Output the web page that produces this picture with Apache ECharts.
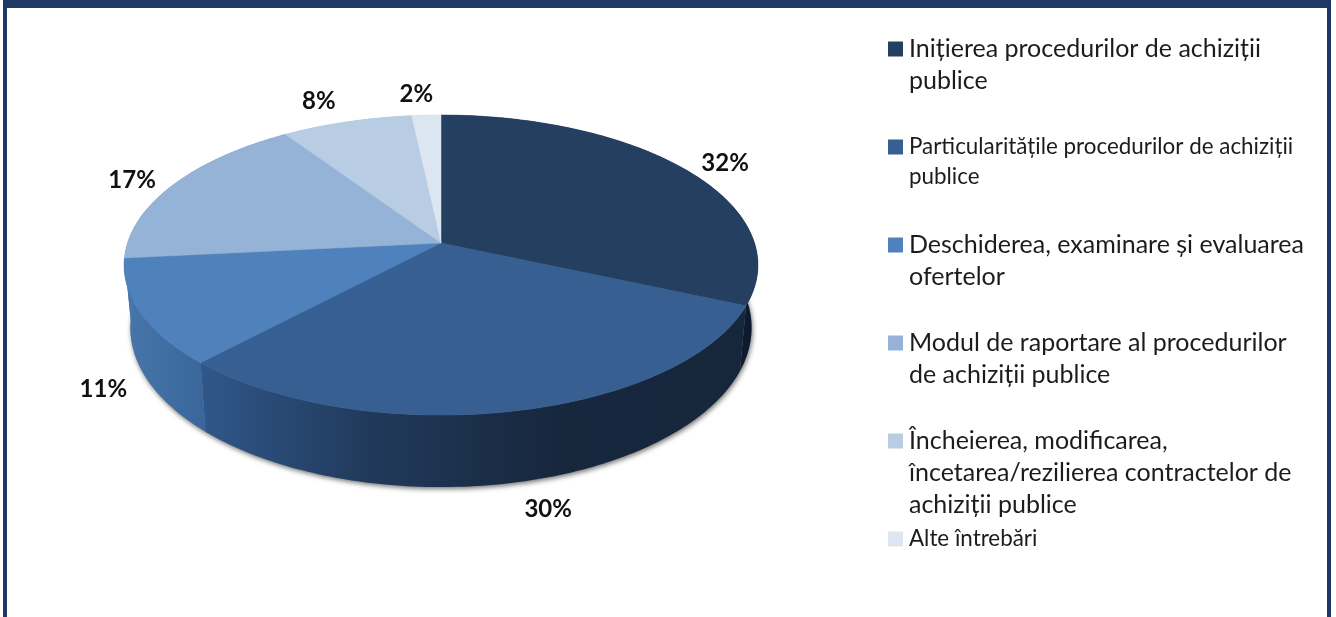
<!DOCTYPE html>
<html>
<head>
<meta charset="utf-8">
<script src="https://cdn.jsdelivr.net/npm/echarts@6/dist/echarts.min.js"></script>
<style>
  html, body { margin: 0; padding: 0; background: #fff; overflow: hidden; }
  #frame {
    position: absolute; left: 3px; top: 0; width: 1328px; height: 617px;
    box-sizing: border-box; border: 4px solid #1f3864; border-top-width: 8px; border-bottom: none;
  }
  #main { position: absolute; left: 0; top: 0; width: 1336px; height: 617px; }
</style>
</head>
<body>
<div id="frame"></div>
<div id="main"></div>
<script>
// values
const sliceNames = [
  'Inițierea procedurilor de achiziții\npublice',
  'Particularitățile procedurilor de achiziții\npublice',
  'Deschiderea, examinare și evaluarea\nofertelor',
  'Modul de raportare al procedurilor\nde achiziții publice',
  'Încheierea, modificarea,\nîncetarea/rezilierea contractelor de\nachiziții publice',
  'Alte întrebări'
]
const sliceValues = [31.6, 30.4, 11.4, 17.2, 7.7, 1.7]

const topColors = ['#243f60', '#375f92', '#4f81bd', '#95b3d7', '#b8cce4', '#dce6f1']
// left to right colour of the rim of each slice
const sideStops = [
  [[0, '#16263b'], [1, '#0d1a2e']],
  [[0, '#30578a'], [0.3, '#213a5c'], [0.65, '#17273d'], [1, '#16263b']],
  [[0, '#4776ab'], [1, '#39659a']],
  [[0, '#4776ab'], [1, '#4776ab']],
  [[0, '#9ab0cc'], [1, '#9ab0cc']],
  [[0, '#bcc8d8'], [1, '#bcc8d8']]
]
// from the rim point at the middle of the slice to the centre of its label
const labelOffsets = [[41, -5], [34, 98], [-37, 77], [-42, -4], [-28, -21], [-10, -21]]
const legendLayout = [
  { y: 49, size: 25, line: 32 },
  { y: 147, size: 22.4, line: 30 },
  { y: 245, size: 25, line: 32 },
  { y: 343, size: 25, line: 32 },
  { y: 441, size: 25, line: 32 },
  { y: 539, size: 22.4, line: 30 }
]

// tilted pie, projected with a little perspective
const cx = 441
const cy = 243
const radiusX = 313.5
const radiusY = 146.8
const depth = 61.4
const persp = 0.147
const bottomShrink = 0.98

function project(angle, drop) {
  const z = -Math.cos(angle)
  const w = 1 - persp * z
  return [
    cx + radiusX * (drop ? bottomShrink : 1) * Math.sin(angle) / w,
    cy + (radiusY * z + (drop ? depth : 0)) / w
  ]
}

function arcPoints(a0, a1, drop) {
  const pts = []
  const n = Math.max(2, Math.ceil((a1 - a0) * 180 / Math.PI))
  for (let i = 0; i <= n; i++) {
    pts.push(project(a0 + (a1 - a0) * i / n, drop))
  }
  return pts
}

const total = sliceValues.reduce((a, b) => a + b, 0)

function renderSlice(params, api) {
  const i = params.seriesIndex
  const value = api.value(0)
  let before = 0
  for (let k = 0; k < i; k++) before += sliceValues[k]
  const a0 = before / total * Math.PI * 2
  const a1 = (before + value) / total * Math.PI * 2
  const mid = (a0 + a1) / 2

  const topArc = arcPoints(a0, a1, false)
  const bottomArc = arcPoints(a0, a1, true)
  const sideShape = topArc.concat(bottomArc.slice().reverse())
  const rim = project(mid, false)
  const sideFill = new echarts.graphic.LinearGradient(0, 0, 1, 0,
    sideStops[i].map(s => ({ offset: s[0], color: s[1] })))

  return {
    type: 'group',
    children: [
      {
        type: 'polygon',
        z2: 0,
        shape: { points: [[cx, cy + depth]].concat(bottomArc) },
        style: { fill: '#888', shadowBlur: 5, shadowColor: 'rgba(0,0,0,0.55)', shadowOffsetY: 2, shadowOffsetX: 1 }
      },
      {
        type: 'polygon',
        z2: 1,
        shape: { points: sideShape },
        style: { fill: sideFill }
      },
      {
        type: 'polygon',
        z2: 2,
        shape: { points: [[cx, cy]].concat(topArc) },
        style: { fill: topColors[i], stroke: topColors[i], lineWidth: 0.5 }
      },
      {
        type: 'text',
        z2: 3,
        style: {
          x: rim[0] + labelOffsets[i][0],
          y: rim[1] + labelOffsets[i][1],
          text: Math.round(value) + '%',
          align: 'center',
          verticalAlign: 'middle',
          fill: '#111',
          font: 'bold 24px Lato'
        }
      }
    ]
  }
}

const chart = echarts.init(document.getElementById('main'))
chart.setOption({
  animation: false,
  tooltip: { show: false },
  legend: sliceNames.map((name, i) => {
    const lines = name.split('\n').length
    const line = legendLayout[i].line
    return {
      left: 888,
      // blank lines above the text keep the symbol on the first line
      top: legendLayout[i].y - (2 * lines - 1) * line / 2,
      padding: 0,
      orient: 'vertical',
      selectedMode: false,
      itemWidth: 15,
      itemHeight: 15,
      itemGap: 0,
      formatter: n => '\n'.repeat(lines - 1) + n,
      data: [{ name: name, icon: 'rect', itemStyle: { color: topColors[i] } }],
      textStyle: {
        fontFamily: 'Lato',
        fontSize: legendLayout[i].size,
        lineHeight: line,
        color: '#1c1c1c',
        padding: [0, 0, 0, 1]
      }
    }
  }),
  series: sliceNames.map((name, i) => ({
    type: 'custom',
    name: name,
    coordinateSystem: 'none',
    silent: true,
    itemStyle: { color: topColors[i] },
    renderItem: renderSlice,
    data: [[sliceValues[i]]]
  }))
})
</script>
</body>
</html>
